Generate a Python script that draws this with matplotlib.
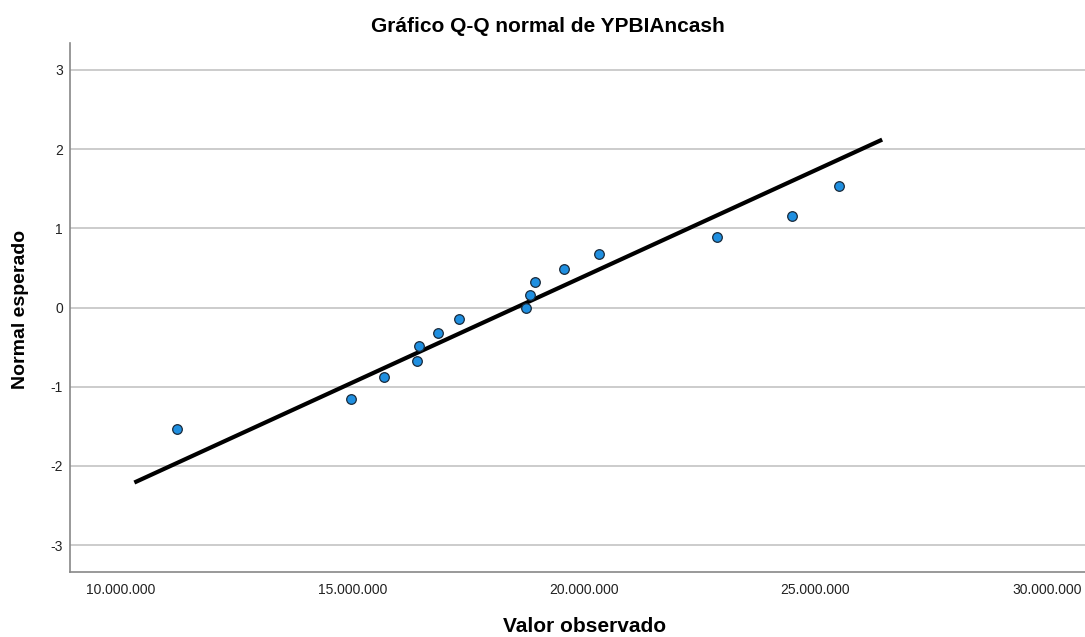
import matplotlib
matplotlib.use('Agg')
import matplotlib.pyplot as plt
from matplotlib.ticker import FuncFormatter

plt.rcParams['font.family'] = ['Liberation Sans', 'DejaVu Sans']
plt.rcParams['axes.unicode_minus'] = False

obs_mill = [11.21, 14.96, 15.68, 16.40, 16.44, 16.85, 17.31, 18.75, 18.83, 18.95, 19.56, 20.32, 22.87, 24.50, 25.51]
expected = [-1.53, -1.15, -0.88, -0.67, -0.48, -0.32, -0.15, 0.00, 0.16, 0.32, 0.49, 0.68, 0.89, 1.16, 1.54]
line_x_mill = [10.29, 26.44]
line_y = [-2.21, 2.12]
xticks_mill = [10, 15, 20, 25, 30]
yticks = [-3, -2, -1, 0, 1, 2, 3]

obs = [v * 1e6 for v in obs_mill]
line_x = [v * 1e6 for v in line_x_mill]

fig = plt.figure(figsize=(10.85, 6.37), dpi=100)
ax = fig.add_axes([0.0645, 0.102, 0.9355, 0.8305])

for t in yticks:
    ax.axhline(t, color='#c8c8c8', lw=1.3, zorder=0)

ax.plot(line_x, line_y, color='black', lw=3, solid_capstyle='butt', zorder=2)
ax.scatter(obs, expected, s=48, color='#1f8fe0', edgecolors='#1a2a3a', linewidths=0.9, zorder=3)

ax.set_xlim(8.9e6, 30.82e6)
ax.set_ylim(-3.34, 3.34)
ax.set_xticks([v * 1e6 for v in xticks_mill])
ax.set_yticks(yticks)
ax.xaxis.set_major_formatter(FuncFormatter(lambda v, p: '{:,}'.format(int(round(v))).replace(',', '.')))
ax.tick_params(length=0, labelsize=10, colors='#222222', pad=8)
ax.tick_params(axis='y', pad=5)

for s in ['top', 'right']:
    ax.spines[s].set_visible(False)
for s in ['left', 'bottom']:
    ax.spines[s].set_color('#888888')
    ax.spines[s].set_linewidth(1.2)

fig.text(0.505, 0.959, 'Gráfico Q-Q normal de YPBIAncash', ha='center', va='center', fontsize=15, fontweight='bold')
fig.text(0.539, 0.017, 'Valor observado', ha='center', va='center', fontsize=15, fontweight='bold')
fig.text(0.019, 0.515, 'Normal esperado', ha='center', va='center', rotation=90, fontsize=14, fontweight='bold')

fig.savefig('out.png', dpi=100)
